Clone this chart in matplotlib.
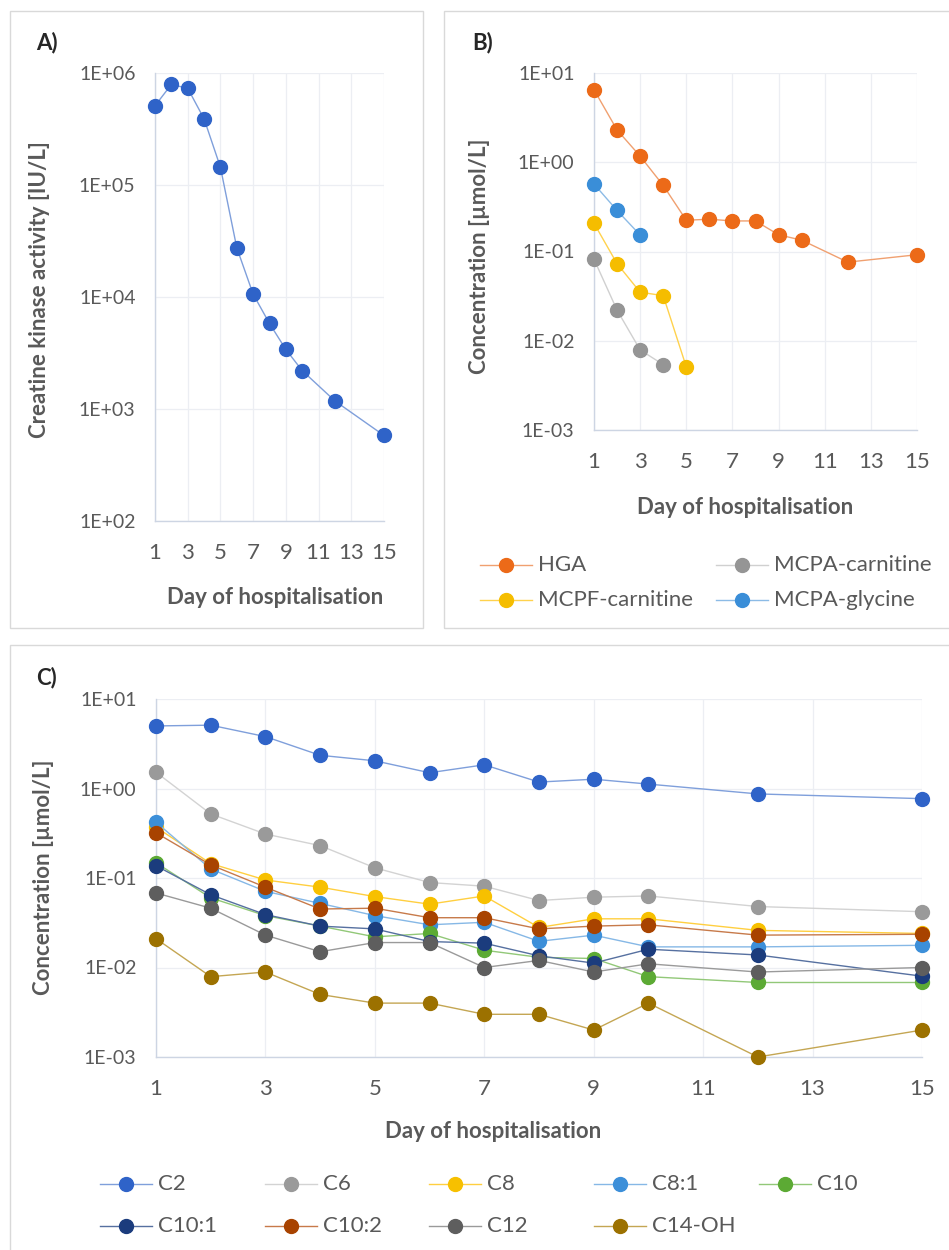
import matplotlib
matplotlib.use("Agg")
import matplotlib.pyplot as plt
from matplotlib.patches import Rectangle
from matplotlib.lines import Line2D
from matplotlib.ticker import FixedLocator, FuncFormatter, NullLocator

plt.rcParams['font.family'] = ['Lato', 'DejaVu Sans']

W, H = 949, 1250

# ---- data ----
ck_days = [1, 2, 3, 4, 5, 6, 7, 8, 9, 10, 12, 15]
ck_activity = [5.1e5, 7.9e5, 7.3e5, 3.9e5, 1.44e5, 2.75e4, 1.06e4, 5.8e3, 3.4e3, 2.2e3, 1.18e3, 580]

hga_days = [1, 2, 3, 4, 5, 6, 7, 8, 9, 10, 12, 15]
hga = [6.5, 2.3, 1.17, 0.55, 0.224, 0.23, 0.22, 0.22, 0.154, 0.134, 0.076, 0.092]
mcpa_carn_days = [1, 2, 3, 4]
mcpa_carn = [0.082, 0.022, 0.0079, 0.0054]
mcpf_carn_days = [1, 2, 3, 4, 5]
mcpf_carn = [0.207, 0.073, 0.035, 0.032, 0.0051]
mcpa_gly_days = [1, 2, 3]
mcpa_gly = [0.57, 0.288, 0.153]

ac_days = [1, 2, 3, 4, 5, 6, 7, 8, 9, 10, 12, 15]
c2 = [5.0, 5.1, 3.8, 2.35, 2.04, 1.5, 1.84, 1.18, 1.27, 1.12, 0.87, 0.77]
c6 = [1.52, 0.52, 0.31, 0.23, 0.13, 0.089, 0.081, 0.056, 0.061, 0.063, 0.048, 0.042]
c8 = [0.37, 0.145, 0.095, 0.079, 0.062, 0.051, 0.063, 0.028, 0.035, 0.035, 0.026, 0.024]
c8_1 = [0.42, 0.126, 0.071, 0.052, 0.038, 0.030, 0.032, 0.0196, 0.023, 0.017, 0.017, 0.0177]
c10 = [0.148, 0.060, 0.038, 0.029, 0.022, 0.024, 0.0156, 0.013, 0.0126, 0.0079, 0.0068, 0.0068]
c10_1 = [0.137, 0.065, 0.039, 0.029, 0.027, 0.0195, 0.0187, 0.0135, 0.0112, 0.016, 0.0138, 0.0080]
c10_2 = [0.32, 0.14, 0.079, 0.045, 0.046, 0.036, 0.036, 0.027, 0.029, 0.030, 0.023, 0.0235]
c12 = [0.068, 0.046, 0.023, 0.015, 0.019, 0.019, 0.010, 0.012, 0.0089, 0.011, 0.0089, 0.010]
c14_oh = [0.021, 0.0079, 0.0089, 0.005, 0.004, 0.004, 0.003, 0.003, 0.002, 0.004, 0.001, 0.002]

b_names = ["HGA", "MCPA-carnitine", "MCPF-carnitine", "MCPA-glycine"]
b_days = [hga_days, mcpa_carn_days, mcpf_carn_days, mcpa_gly_days]
b_values = [hga, mcpa_carn, mcpf_carn, mcpa_gly]
b_colors = ['#EC6A18', '#959595', '#F5BD00', '#3A8ED8']
b_lines = ['#F0A070', '#D0D0D0', '#FFD24D', '#8CBBE6']

c_names = ["C2", "C6", "C8", "C8:1", "C10", "C10:1", "C10:2", "C12", "C14-OH"]
c_values = [c2, c6, c8, c8_1, c10, c10_1, c10_2, c12, c14_oh]
c_colors = ['#2F63C8', '#9A9A9A', '#F7C000', '#3C8FD9', '#5CAA34',
            '#1B3C7D', '#A84300', '#5E5E5E', '#9C7100']
c_lines = ['#7F9FDB', '#D3D3D3', '#FFCF40', '#86B8E6', '#92C878',
           '#5670A0', '#C77A4A', '#9A9A9A', '#C4A653']

TXT = '#595959'
GRID = '#ECEEF3'
SPINE = '#CDD5E3'
MS = 10
LBL = 16


def fx(x):
    return x / W


def fy(y):
    return 1 - y / H


def make_axes(l, t, r, b, ylo, yhi):
    ax = fig.add_axes([fx(l), fy(b), (r - l) / W, (b - t) / H])
    ax.set_yscale('log')
    ax.set_xlim(1, 15)
    ax.set_ylim(ylo, yhi)
    ax.xaxis.set_major_locator(FixedLocator(range(1, 16, 2)))
    ax.yaxis.set_major_locator(FixedLocator([10.0 ** e for e in range(-4, 8)]))
    ax.yaxis.set_minor_locator(NullLocator())
    ax.yaxis.set_major_formatter(FuncFormatter(lambda v, p: '{:.0E}'.format(v)))
    ax.tick_params(axis='both', length=0, colors=TXT)
    ax.tick_params(axis='y', pad=14, labelsize=14)
    ax.tick_params(axis='x', pad=16, labelsize=16)
    ax.grid(True, color=GRID, lw=0.9)
    ax.set_axisbelow(True)
    for s in ['top', 'right']:
        ax.spines[s].set_visible(False)
    for s in ['left', 'bottom']:
        ax.spines[s].set_color(SPINE)
        ax.spines[s].set_linewidth(1.0)
    return ax


def legend_entry(x, y, label, color, lcolor):
    fig.add_artist(Line2D([fx(x - 26), fx(x + 26)], [fy(y), fy(y)], color=lcolor, lw=1.0,
                          transform=fig.transFigure))
    fig.add_artist(Line2D([fx(x)], [fy(y)], marker='o', ms=MS, color=color, mec=color,
                          transform=fig.transFigure))
    fig.text(fx(x + 32), fy(y), label, ha='left', va='center', fontsize=16, color=TXT)


fig = plt.figure(figsize=(W / 100, H / 100), dpi=100)

# panel frames
for (l, t, r, b) in [(10, 11, 423, 628), (444, 11, 975, 628), (10, 645, 975, 1275)]:
    fig.add_artist(Rectangle((fx(l), fy(b)), (r - l) / W, (b - t) / H, fill=False,
                             ec='#D9D9D9', lw=1.0, transform=fig.transFigure))

# ---- A ----
axA = make_axes(155, 73, 384, 521, 1e2, 1e6)
axA.plot(ck_days, ck_activity, color='#7F9FDB', lw=1.0, marker='o', ms=MS,
         mfc='#2F63C8', mec='#2F63C8', clip_on=False, zorder=3)
fig.text(fx(36), fy(43), 'A)', fontsize=16, fontweight='bold', color='#262626', va='center')
fig.text(fx(275), fy(597), 'Day of hospitalisation', fontsize=LBL, fontweight='bold',
         color=TXT, ha='center', va='center')
fig.text(fx(40), fy(290), 'Creatine kinase activity [IU/L]', fontsize=LBL, fontweight='bold',
         color=TXT, ha='center', va='center', rotation=90)

# ---- B ----
axB = make_axes(594, 73, 917, 430, 1e-3, 1e1)
for d, v, c, lc in zip(b_days, b_values, b_colors, b_lines):
    axB.plot(d, v, color=lc, lw=1.0, marker='o', ms=MS, mfc=c, mec=c, clip_on=False, zorder=3)
fig.text(fx(472), fy(43), 'B)', fontsize=16, fontweight='bold', color='#262626', va='center')
fig.text(fx(745), fy(507), 'Day of hospitalisation', fontsize=LBL, fontweight='bold',
         color=TXT, ha='center', va='center')
fig.text(fx(479), fy(256), 'Concentration [µmol/L]', fontsize=LBL, fontweight='bold',
         color=TXT, ha='center', va='center', rotation=90)
b_pos = [(506, 565), (742, 565), (506, 600), (742, 600)]
for (x, y), n, c, lc in zip(b_pos, b_names, b_colors, b_lines):
    legend_entry(x, y, n, c, lc)

# ---- C ----
axC = make_axes(156, 699, 922, 1057, 1e-3, 1e1)
for v, c, lc in zip(c_values, c_colors, c_lines):
    axC.plot(ac_days, v, color=lc, lw=1.0, marker='o', ms=MS, mfc=c, mec=c, clip_on=False, zorder=3)
fig.text(fx(36), fy(678), 'C)', fontsize=16, fontweight='bold', color='#262626', va='center')
fig.text(fx(493), fy(1131), 'Day of hospitalisation', fontsize=LBL, fontweight='bold',
         color=TXT, ha='center', va='center')
fig.text(fx(44), fy(877), 'Concentration [µmol/L]', fontsize=LBL, fontweight='bold',
         color=TXT, ha='center', va='center', rotation=90)
col_x = [126, 290.7, 455.3, 620, 784.6]
for i, (n, c, lc) in enumerate(zip(c_names, c_colors, c_lines)):
    row, col = divmod(i, 5)
    legend_entry(col_x[col], [1184, 1226][row], n, c, lc)

fig.savefig('out.png', dpi=100)
